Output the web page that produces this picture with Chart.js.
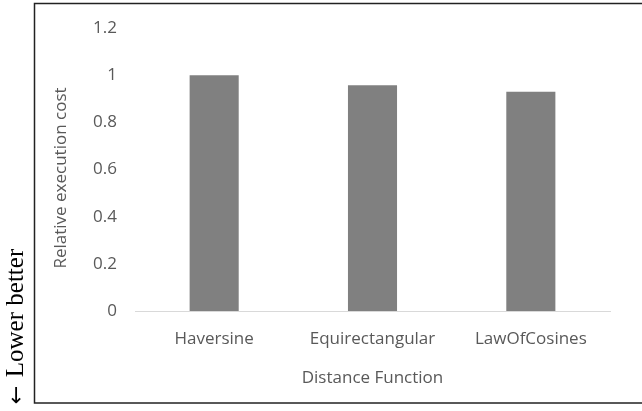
<!DOCTYPE html>
<html>
<head>
<meta charset="utf-8">
<script src="https://cdn.jsdelivr.net/npm/chart.js@4/dist/chart.umd.min.js"></script>
<style>
  html, body { margin: 0; padding: 0; background: #fff; }
  #wrap { position: relative; width: 642px; height: 411px; }
</style>
</head>
<body>
<div id="wrap"><canvas id="costChart"></canvas></div>
<script>
// datos del grafico
const categories = ['Haversine', 'Equirectangular', 'LawOfCosines'];
const relativeCost = [1.0, 0.958, 0.93];
const yTicks = [0, 0.2, 0.4, 0.6, 0.8, 1, 1.2];

const textColor = '#595959';
const fontFamily = "'Open Sans', 'Noto Sans', sans-serif";

// marco, titulo del eje Y y texto lateral "Lower better"
const framePlugin = {
  id: 'frame',
  afterDraw(chart) {
    const c = chart.ctx;
    c.save();
    c.strokeStyle = '#222';
    c.lineWidth = 1.5;
    c.strokeRect(34.5, 3.5, 700, 399.5);

    c.save();
    c.translate(61, 178);
    c.rotate(-Math.PI / 2);
    c.fillStyle = textColor;
    c.font = '17px ' + fontFamily;
    c.textAlign = 'center';
    c.textBaseline = 'middle';
    c.fillText('Relative execution cost', 0, 0);
    c.restore();

    // rotado: la coordenada x es -y en pantalla
    c.translate(16, 0);
    c.rotate(-Math.PI / 2);
    c.fillStyle = '#000';
    c.textAlign = 'center';
    c.textBaseline = 'middle';
    c.font = "25px 'Liberation Serif', 'DejaVu Serif', serif";
    c.fillText('Lower better', -313, 0);
    c.font = "22px 'DejaVu Sans', sans-serif";
    c.fillText('\u2190', -395, 1);
    c.restore();
  }
};

const ctx = document.getElementById('costChart');
new Chart(ctx, {
  type: 'bar',
  data: {
    labels: categories,
    datasets: [{
      data: relativeCost,
      backgroundColor: '#808080',
      borderWidth: 0,
      categoryPercentage: 1,
      barPercentage: 0.31
    }]
  },
  options: {
    responsive: true,
    maintainAspectRatio: false,
    animation: false,
    layout: { padding: { left: 60, right: 32, top: 25, bottom: 8 } },
    plugins: {
      legend: { display: false },
      tooltip: { enabled: false }
    },
    scales: {
      x: {
        grid: { display: false, drawTicks: false },
        border: { display: true, color: '#d9d9d9', width: 1 },
        ticks: { color: textColor, font: { family: fontFamily, size: 17 }, padding: 18, maxRotation: 0 },
        title: {
          display: true,
          text: 'Distance Function',
          color: textColor,
          font: { family: fontFamily, size: 17 },
          padding: { top: 4, bottom: 15 }
        },
        afterFit(scale) { scale.height = 92; }
      },
      y: {
        min: 0,
        max: 1.2,
        grid: { display: false, drawTicks: false },
        border: { display: false },
        afterBuildTicks(scale) { scale.ticks = yTicks.map(v => ({ value: v })); },
        ticks: {
          color: textColor,
          font: { family: fontFamily, size: 17 },
          padding: 18,
          callback: v => String(Math.round(v * 10) / 10)
        },
        afterFit(scale) { scale.width = 75; }
      }
    }
  },
  plugins: [framePlugin]
});
</script>
</body>
</html>
